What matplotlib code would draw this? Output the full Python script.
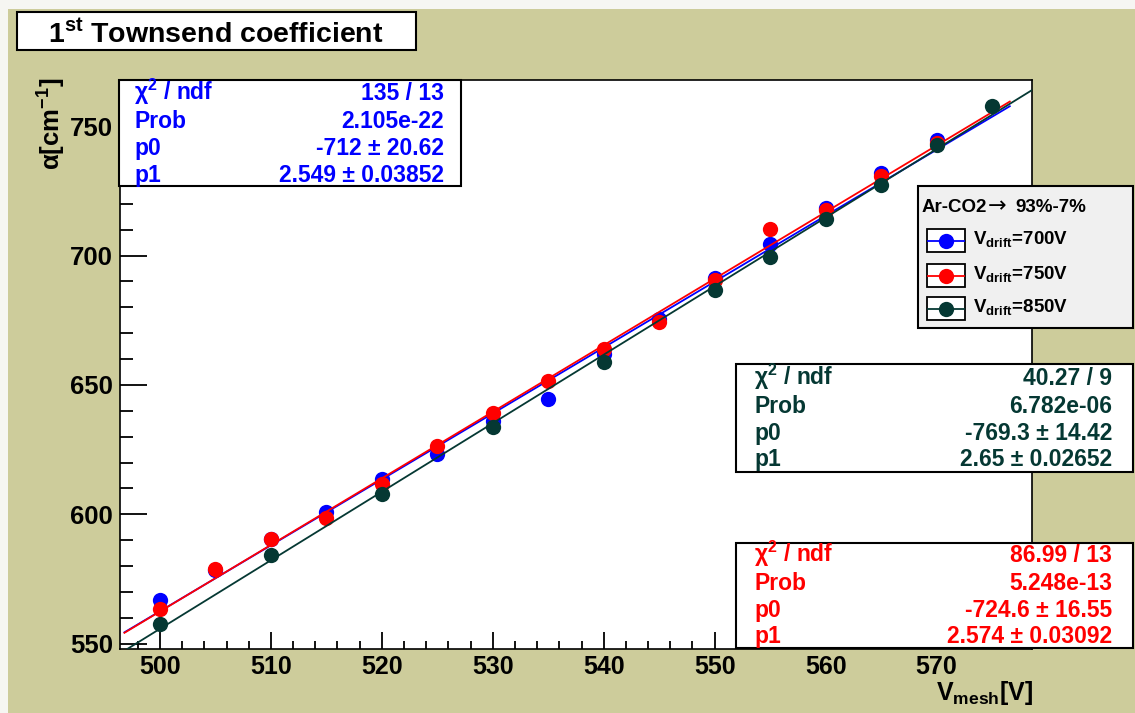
import matplotlib
matplotlib.use("Agg")
import matplotlib.pyplot as plt
from matplotlib.patches import Rectangle
from matplotlib.lines import Line2D
from matplotlib.ticker import MultipleLocator
import numpy as np

plt.rcParams['font.family'] = ['Liberation Sans', 'DejaVu Sans']
plt.rcParams['font.weight'] = 'bold'
plt.rcParams['mathtext.fontset'] = 'custom'
plt.rcParams['mathtext.rm'] = 'Liberation Sans:bold'
plt.rcParams['mathtext.bf'] = 'Liberation Sans:bold'
plt.rcParams['mathtext.it'] = 'Liberation Sans:bold'
plt.rcParams['mathtext.sf'] = 'Liberation Sans:bold'
plt.rcParams['mathtext.default'] = 'rm'

# ---- measurements: first Townsend coefficient vs mesh voltage ----
v_mesh_700 = [500, 505, 510, 515, 520, 525, 530, 535, 540, 545, 550, 555, 560, 565, 570]
alpha_700 = [566.7, 578.5, 590.3, 601.0, 613.5, 623.3, 636.2, 644.4, 661.9, 675.4,
             691.2, 704.5, 718.6, 731.9, 744.7]

v_mesh_750 = [500, 505, 510, 515, 520, 525, 530, 535, 540, 545, 550, 555, 560, 565, 570]
alpha_750 = [563.2, 578.9, 590.5, 598.6, 611.7, 626.3, 639.0, 651.4, 663.8, 674.2,
             690.5, 710.2, 717.7, 730.6, 743.7]

v_mesh_850 = [500, 510, 520, 530, 540, 550, 555, 560, 565, 570, 575]
alpha_850 = [557.5, 584.2, 607.9, 633.6, 658.9, 686.7, 699.6, 714.1, 727.4, 742.8, 758.0]

# linear fit results: alpha = p0 + p1 * V
p0_700, p1_700 = -712.0, 2.549
p0_750, p1_750 = -724.6, 2.574
p0_850, p1_850 = -769.3, 2.65

chi_label = r"$\chi^{2}$ / ndf"
stats_700 = [(chi_label, "135 / 13"), ("Prob", "2.105e-22"),
             ("p0", "-712 ± 20.62"), ("p1", "2.549 ± 0.03852")]
stats_850 = [(chi_label, "40.27 / 9"), ("Prob", "6.782e-06"),
             ("p0", "-769.3 ± 14.42"), ("p1", "2.65 ± 0.02652")]
stats_750 = [(chi_label, "86.99 / 13"), ("Prob", "5.248e-13"),
             ("p0", "-724.6 ± 16.55"), ("p1", "2.574 ± 0.03092")]

legend_gas = "Ar-CO2"
legend_arrow = "→"
legend_mix = "93%-7%"
legend_labels = [r"V$_{drift}$=700V", r"V$_{drift}$=750V", r"V$_{drift}$=850V"]

c700 = "#0000FF"
c750 = "#FF0000"
c850 = "#053833"
canvas_bg = "#CDCC9B"

W, H = 1135, 713
fig = plt.figure(figsize=(W / 100, H / 100), dpi=100)
fig.patch.set_facecolor(canvas_bg)


def fx(px):
    return px / W


def fy(py):
    return 1 - py / H


def box(x0, y0, x1, y1, face="white", lw=1.5, edge="black"):
    r = Rectangle((fx(x0), fy(y1)), (x1 - x0) / W, (y1 - y0) / H,
                  transform=fig.transFigure, facecolor=face, edgecolor=edge,
                  linewidth=lw, zorder=2)
    fig.add_artist(r)


# light canvas border highlight
box(0, 0, W, 9, face="#F6F6F2", lw=0, edge="none")
box(0, 0, 8, H, face="#F6F6F2", lw=0, edge="none")

ax = fig.add_axes([fx(120), fy(649), (1032 - 120) / W, (649 - 80) / H])
ax.set_facecolor("white")
ax.set_xlim(496.4, 578.6)
ax.set_ylim(547.9, 767.9)

series = [
    (v_mesh_700, alpha_700, p0_700, p1_700, c700, (496.8, 576.6)),
    (v_mesh_750, alpha_750, p0_750, p1_750, c750, (496.8, 576.6)),
    (v_mesh_850, alpha_850, p0_850, p1_850, c850, (492.5, 582.5)),
]
z = 3
for xs, ys, p0, p1, col, (xa, xb) in series:
    ax.plot(xs, ys, linestyle="none", marker="o", ms=11, mew=0, color=col, zorder=z)
    xf = np.linspace(xa, xb, 50)
    ax.plot(xf, p0 + p1 * xf, color=col, lw=1.3, zorder=z + 1)
    z += 2

ax.xaxis.set_major_locator(MultipleLocator(10))
ax.xaxis.set_minor_locator(MultipleLocator(2))
ax.yaxis.set_major_locator(MultipleLocator(50))
ax.yaxis.set_minor_locator(MultipleLocator(10))
ax.tick_params(axis="y", which="major", direction="in", length=19.4, width=1.3,
               labelsize=18.5, pad=5)
ax.tick_params(axis="y", which="minor", direction="in", length=9.4, width=1.3)
ax.tick_params(axis="x", which="major", direction="in", length=12.2, width=1.3,
               labelsize=18, pad=4.5)
ax.tick_params(axis="x", which="minor", direction="in", length=5.8, width=1.3)
for lab in ax.get_xticklabels() + ax.get_yticklabels():
    lab.set_fontweight("bold")
for sp in ax.spines.values():
    sp.set_linewidth(1.2)

# title box
box(17, 12, 416, 50)
fig.text(fx(216), fy(43), r"$1^{st}$ Townsend coefficient", ha="center",
         va="baseline", fontsize=20.5, zorder=3)

# axis titles
fig.text(fx(52), fy(78), r"α[cm$^{-1}$]", rotation=90, ha="center", va="top",
         fontsize=18.5, zorder=3)
fig.text(fx(1033), fy(700), r"V$_{mesh}$[V]", ha="right", va="baseline",
         fontsize=18, zorder=3)


def stats(x0, y0, x1, y1, rows, col, baselines, xl, xr):
    box(x0, y0, x1, y1)
    for (k, v), b in zip(rows, baselines):
        fig.text(fx(xl), fy(b), k, ha="left", va="baseline", color=col,
                 fontsize=16.5, zorder=3)
        fig.text(fx(xr), fy(b), v, ha="right", va="baseline", color=col,
                 fontsize=16.5, zorder=3)


stats(119, 80, 461, 186, stats_700, c700, [100, 128, 155, 182], 134, 444)
stats(736, 364, 1133, 472, stats_850, c850, [385, 413, 440, 466], 754, 1112)
stats(736, 543, 1133, 648, stats_750, c750, [562, 590, 617, 643], 754, 1112)

# legend
box(918, 186, 1133, 328, face="#F0F0F0")
fig.text(fx(922), fy(212), legend_gas, ha="left", va="baseline", fontsize=13.5,
         zorder=3)
fig.text(fx(988), fy(212), legend_arrow, ha="left", va="baseline", fontsize=16,
         fontweight="normal", family=["DejaVu Sans"], zorder=3)
fig.text(fx(1015), fy(212), legend_mix, ha="left", va="baseline", fontsize=13.5,
         zorder=3)
for lab, col, (top, base) in zip(legend_labels, [c700, c750, c850],
                                 [(229, 244), (264, 279), (297, 312)]):
    box(927, top, 965, top + 23, face="white", lw=1.3)
    yc = fy(top + 11.5)
    fig.add_artist(Line2D([fx(928), fx(964)], [yc, yc], transform=fig.transFigure,
                          color=col, lw=1.3, zorder=3))
    fig.add_artist(Line2D([fx(946)], [yc], transform=fig.transFigure, marker="o",
                          ms=11, mew=0, color=col, zorder=3))
    fig.text(fx(973), fy(base), lab, ha="left", va="baseline", fontsize=13.5,
             zorder=3)

fig.savefig("out.png", dpi=100, facecolor=fig.get_facecolor())
